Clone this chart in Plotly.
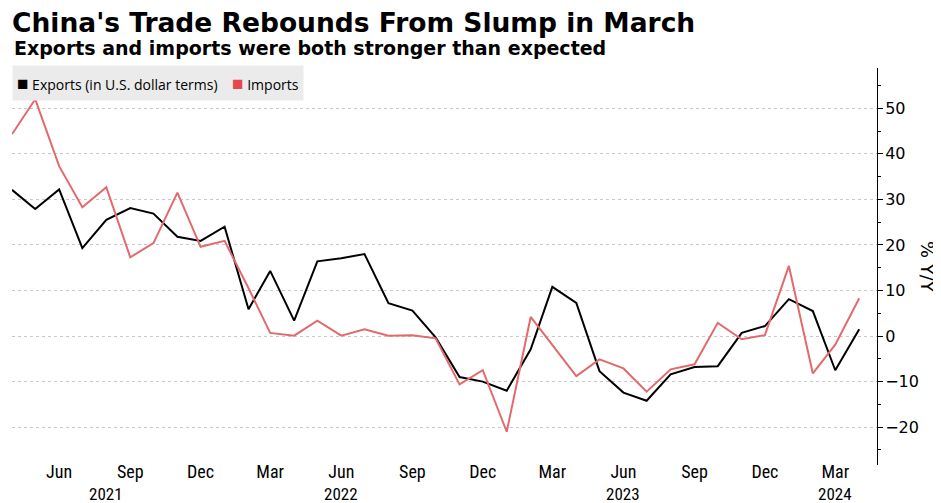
import pandas as pd
import plotly.graph_objects as go

# monthly y/y change, Apr 2021 - Apr 2024
months = pd.date_range("2021-04-01", "2024-04-01", freq="MS")

exports = [32.1, 27.9, 32.2, 19.3, 25.5, 28.1, 26.9, 21.8, 20.9,
           24.0, 5.9, 14.3, 3.4, 16.4, 17.1, 18.0, 7.2, 5.6, -0.3, -9.0, -10.0,
           -12.0, -2.9, 10.8, 7.3, -7.7, -12.4, -14.2, -8.4, -6.8, -6.6, 0.7, 2.2,
           8.1, 5.5, -7.5, 1.5]
imports = [44.3, 52.0, 37.3, 28.3, 32.7, 17.3, 20.4, 31.5, 19.6,
           20.9, 10.5, 0.7, 0.1, 3.4, 0.1, 1.5, 0.1, 0.2, -0.5, -10.6, -7.5,
           -21.0, 4.2, -2.0, -8.8, -5.1, -7.1, -12.2, -7.3, -6.2, 2.9, -0.7, 0.2,
           15.4, -8.2, -1.9, 8.3]

tick_dates = ["2021-06-01", "2021-09-01", "2021-12-01", "2022-03-01", "2022-06-01",
              "2022-09-01", "2022-12-01", "2023-03-01", "2023-06-01", "2023-09-01",
              "2023-12-01", "2024-03-01"]
tick_text = ["Jun", "Sep", "Dec", "Mar", "Jun", "Sep", "Dec", "Mar", "Jun", "Sep", "Dec", "Mar"]
year_pos = ["2021-08-01", "2022-06-01", "2023-06-01", "2024-03-01"]
year_text = ["2021", "2022", "2023", "2024"]

RED = "#e26a6c"
NARROW = "Roboto Condensed, DejaVu Sans Condensed, Liberation Sans Narrow, Liberation Sans, sans-serif"

fig = go.Figure()
fig.add_trace(go.Scatter(x=months, y=exports, mode="lines",
                         line=dict(color="black", width=2), name="Exports (in U.S. dollar terms)"))
fig.add_trace(go.Scatter(x=months, y=imports, mode="lines",
                         line=dict(color=RED, width=2), name="Imports"))

# the page puts the figure 8px in from the top-left corner, so size it to the rest
fig.update_layout(
    width=933, height=495,
    margin=dict(l=4, r=64, t=60, b=38, autoexpand=False),
    paper_bgcolor="white", plot_bgcolor="white",
    showlegend=False,
    title=dict(
        text="<b>China's Trade Rebounds From Slump in March</b>",
        font=dict(family="DejaVu Sans", size=26.5, color="black"),
        x=4 / 933, xanchor="left", xref="container",
        y=0.99, yanchor="top", yref="container",
    ),
)

fig.update_xaxes(
    type="date", range=["2021-04-01", "2024-04-24"],
    tickmode="array", tickvals=tick_dates, ticktext=tick_text,
    showgrid=False, showline=False, ticks="", zeroline=False,
    ticklabelstandoff=-6,
    tickfont=dict(family=NARROW, size=18, color="black"),
)
fig.update_yaxes(
    side="right", range=[-28.3, 58.85], dtick=10, tick0=0,
    showline=True, linecolor="black", linewidth=1,
    ticks="outside", ticklen=5, tickcolor="black",
    ticklabelstandoff=-1,
    minor=dict(dtick=5, ticks="outside", ticklen=3, tickcolor="black", showgrid=False),
    showgrid=True, gridcolor="#c8c8c8", griddash="dot", gridwidth=1,
    zeroline=False,
    tickfont=dict(family="DejaVu Sans", size=16, color="black"),
)

# subtitle
fig.add_annotation(x=0, y=1, xref="paper", yref="paper", xanchor="left", yanchor="bottom",
                   yshift=7, text="<b>Exports and imports were both stronger than expected</b>",
                   showarrow=False, font=dict(family="DejaVu Sans", size=19, color="black"))

# year row under the month labels
for xp, yt in zip(year_pos, year_text):
    fig.add_annotation(x=xp, y=0, xref="x", yref="paper", text=yt, showarrow=False,
                       yanchor="top", yshift=-17,
                       font=dict(family=NARROW, size=17, color="black"))

# y axis title, reads top to bottom
fig.add_annotation(x=1, y=0.5, xref="paper", yref="paper", xshift=63, text="% Y/Y",
                   textangle=90, showarrow=False,
                   font=dict(family="DejaVu Sans", size=18, color="black"))

# legend box
fig.add_annotation(
    x=0, y=1, xref="paper", yref="paper", xanchor="left", yanchor="top", yshift=3,
    text="<span style='font-size:19px'>■</span> Exports (in U.S. dollar terms)    "
         "<span style='font-size:19px;color:#e8464e'>■</span> Imports",
    showarrow=False, align="left", bgcolor="#ebebeb", borderpad=4,
    font=dict(family="Open Sans", size=14, color="black"),
)

fig.write_html("out.html")
